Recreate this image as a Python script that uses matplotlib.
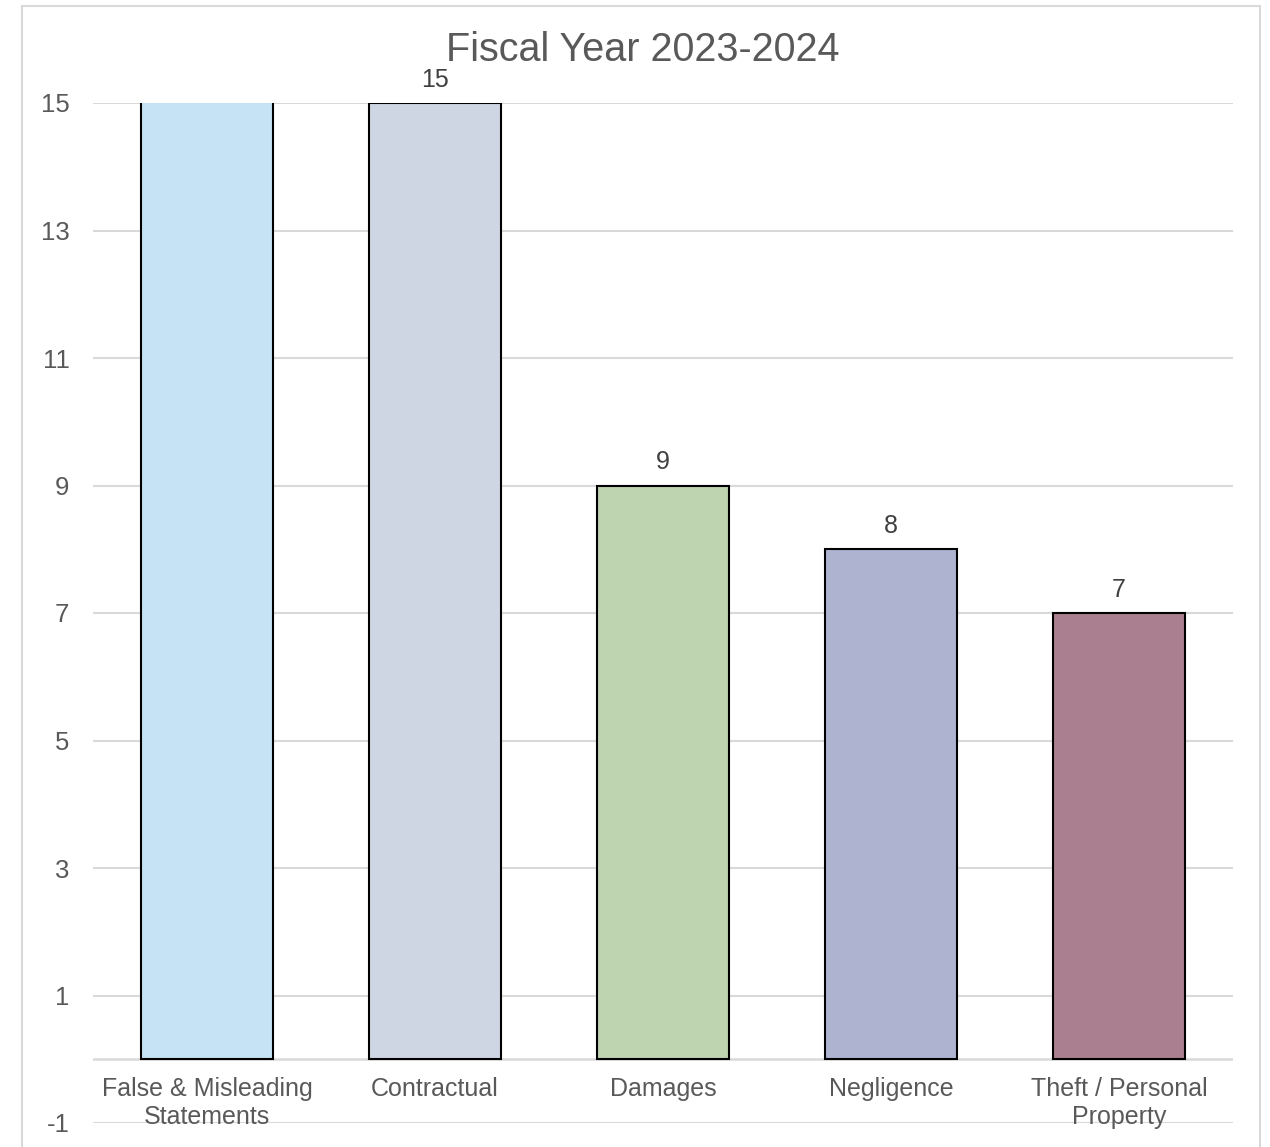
import matplotlib
matplotlib.use("Agg")
import matplotlib.pyplot as plt
from matplotlib.patches import Rectangle

categories = ["False & Misleading\nStatements", "Contractual", "Damages", "Negligence", "Theft / Personal\nProperty"]
values = [20, 15, 9, 8, 7]
colors = ["#c5e3f4", "#cfd6e3", "#bed3b0", "#aeb4d0", "#aa8090"]
yticks = [-1, 1, 3, 5, 7, 9, 11, 13, 15]
title = "Fiscal Year 2023-2024"

plt.rcParams['font.family'] = ['Liberation Sans', 'DejaVu Sans']
W, H = 1270, 1147
fig = plt.figure(figsize=(W / 100, H / 100), dpi=100)
fig.patch.set_facecolor("white")

# outer chart frame
fig.patches.append(Rectangle((22 / W, -0.05), (1260 - 22) / W, 1.05 - 6 / H,
                             transform=fig.transFigure, fill=False,
                             edgecolor="#d9d9d9", lw=1.5))

ax = fig.add_axes([93 / W, 24 / H, (1233 - 93) / W, (1123 - 103) / H])
ymin, ymax = -1, 15
ax.set_ylim(ymin, ymax)
ax.set_xlim(-0.5, len(categories) - 0.5)

for y in yticks:
    ax.axhline(y, color="#d9d9d9", lw=1.5, zorder=0)
ax.axhline(0, color="#d9d9d9", lw=1.8, zorder=1)

x = list(range(len(categories)))
ax.bar(x, values, width=0.575, color=colors, edgecolor="black", lw=1.5, zorder=2)

for xi, v in zip(x, values):
    if v <= ymax:
        ax.annotate(str(v), (xi, v), xytext=(0, 8), textcoords="offset points",
                    ha="center", va="bottom", fontsize=18, color="#404040")
    ax.annotate(categories[xi], (xi, 0), xytext=(0, -13), textcoords="offset points",
                ha="center", va="top", fontsize=18, color="#595959", linespacing=1.2)

ax.set_yticks(yticks)
ax.set_yticklabels([str(t) for t in yticks], fontsize=18.5, color="#595959")
ax.tick_params(axis="y", length=0, pad=17)
ax.set_xticks([])
for s in ax.spines.values():
    s.set_visible(False)

fig.text(643 / W, 1 - 61 / H, title, ha="center", va="baseline", fontsize=28.5, color="#595959")

fig.savefig("out.png", dpi=100)
